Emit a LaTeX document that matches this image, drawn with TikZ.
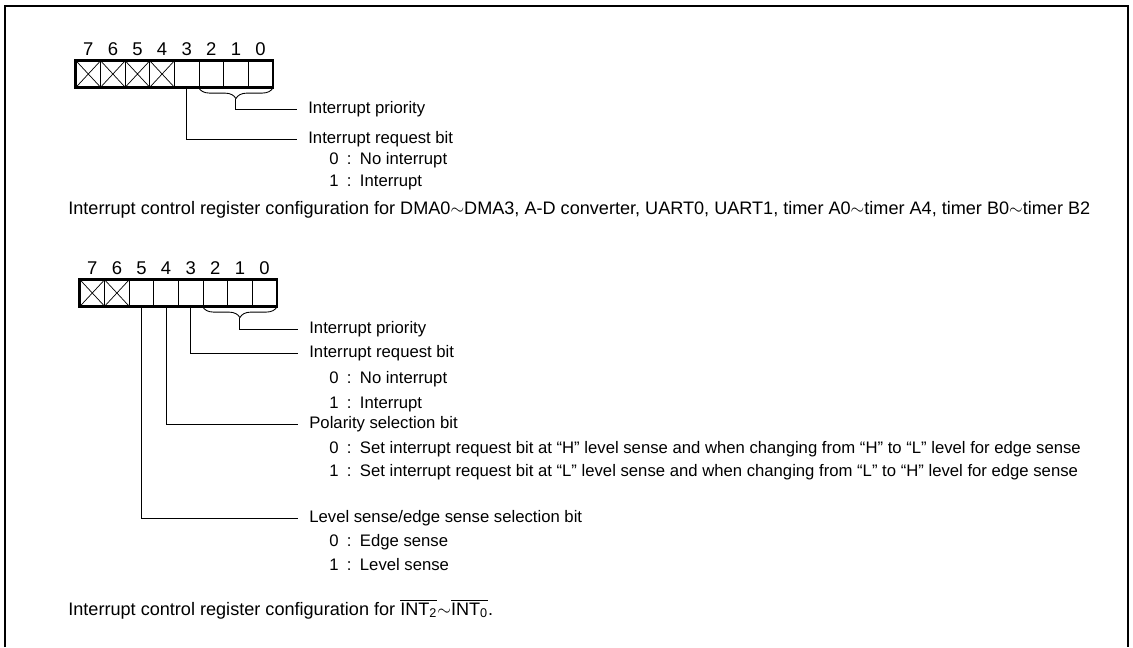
\documentclass[tikz,border=0pt]{standalone}
\usepackage{fontspec}
\setmainfont{Liberation Sans}
\usetikzlibrary{decorations.pathreplacing, calc, positioning}

\begin{document}
\begin{tikzpicture}[
    x=0.02cm, y=-0.02cm,
    font=\fontsize{9.5}{11}\selectfont,
    cell/.style={draw, line width=0.4pt, minimum width=0.492cm, minimum height=0.53cm, inner sep=0pt},
    xcell/.style={cell, path picture={\draw[line width=0.4pt] (path picture bounding box.north west) -- (path picture bounding box.south east) (path picture bounding box.south west) -- (path picture bounding box.north east);}},
    num/.style={font=\fontsize{10.5}{12}\selectfont, inner ysep=2.6pt},
    regbox/.style={line width=1.4pt},
    lead/.style={line width=0.5pt},
    lbl/.style={anchor=west, inner xsep=0.22cm, inner ysep=1pt},
    itemtext/.style={anchor=west, inner sep=0pt},
    captext/.style={anchor=west, inner sep=0pt, font=\fontsize{10.3}{12}\selectfont},
    brc/.style={decorate, decoration={brace, mirror, amplitude=0.22cm}, line width=0.5pt},
    frame/.style={line width=1.1pt}
]
    \useasboundingbox (0,0) rectangle (1133,647);
    \draw[frame] (5,647) |- (1128,6) -- (1128,647);

    % register for DMA, A-D, UART, timers
    \node[xcell, label={[num]above:7}] (r1b7) at (88.3,74) {};
    \node[xcell, label={[num]above:6}] (r1b6) at (112.9,74) {};
    \node[xcell, label={[num]above:5}] (r1b5) at (137.5,74) {};
    \node[xcell, label={[num]above:4}] (r1b4) at (162.1,74) {};
    \node[cell, label={[num]above:3}] (r1b3) at (186.7,74) {};
    \node[cell, label={[num]above:2}] (r1b2) at (211.3,74) {};
    \node[cell, label={[num]above:1}] (r1b1) at (235.9,74) {};
    \node[cell, label={[num]above:0}] (r1b0) at (260.5,74) {};
    \draw[regbox] (r1b7.north west) rectangle (r1b0.south east);

    \node[lbl] (pri1) at (297,109) {Interrupt priority};
    \node[lbl] (req1) at (297,139) {Interrupt request bit};
    \node[itemtext] (req1a) at (329,160) {0\enspace:\enspace No interrupt};
    \node[itemtext] (req1b) at (329,182) {1\enspace:\enspace Interrupt};

    \draw[brc] (r1b2.south west) -- (r1b0.south east);
    \coordinate (tip1) at ([yshift=-0.22cm]$(r1b2.south west)!0.5!(r1b0.south east)$);
    \draw[lead] (tip1) |- (pri1.west);
    \draw[lead] (r1b3.south) |- (req1.west);

    \node[captext] (cap1) at (68,210) {Interrupt control register configuration for DMA0${\sim}$DMA3, A-D converter, UART0, UART1, timer A0${\sim}$timer A4, timer B0${\sim}$timer B2};

    % register for INT2 to INT0
    \node[xcell, label={[num]above:7}] (r2b7) at (92.3,293) {};
    \node[xcell, label={[num]above:6}] (r2b6) at (116.9,293) {};
    \node[cell, label={[num]above:5}] (r2b5) at (141.5,293) {};
    \node[cell, label={[num]above:4}] (r2b4) at (166.1,293) {};
    \node[cell, label={[num]above:3}] (r2b3) at (190.7,293) {};
    \node[cell, label={[num]above:2}] (r2b2) at (215.3,293) {};
    \node[cell, label={[num]above:1}] (r2b1) at (239.9,293) {};
    \node[cell, label={[num]above:0}] (r2b0) at (264.5,293) {};
    \draw[regbox] (r2b7.north west) rectangle (r2b0.south east);

    \node[lbl] (pri2) at (298,329) {Interrupt priority};
    \node[lbl] (req2) at (298,353) {Interrupt request bit};
    \node[itemtext] (req2a) at (329,379) {0\enspace:\enspace No interrupt};
    \node[itemtext] (req2b) at (329,404) {1\enspace:\enspace Interrupt};
    \node[lbl] (pol2) at (298,424) {Polarity selection bit};
    \node[itemtext] (pol2a) at (329,449) {0\enspace:\enspace Set interrupt request bit at “H” level sense and when changing from “H” to “L” level for edge sense};
    \node[itemtext] (pol2b) at (329,472) {1\enspace:\enspace Set interrupt request bit at “L” level sense and when changing from “L” to “H” level for edge sense};
    \node[lbl] (lvl2) at (298,518) {Level sense/edge sense selection bit};
    \node[itemtext] (lvl2a) at (329,542) {0\enspace:\enspace Edge sense};
    \node[itemtext] (lvl2b) at (329,565) {1\enspace:\enspace Level sense};

    \draw[brc] (r2b2.south west) -- (r2b0.south east);
    \coordinate (tip2) at ([yshift=-0.22cm]$(r2b2.south west)!0.5!(r2b0.south east)$);
    \draw[lead] (tip2) |- (pri2.west);
    \draw[lead] (r2b3.south) |- (req2.west);
    \draw[lead] (r2b4.south) |- (pol2.west);
    \draw[lead] (r2b5.south) |- (lvl2.west);

    \node[captext] (cap2) at (68,609) {Interrupt control register configuration for $\overline{\mbox{INT\textsubscript{2}}}{\sim}\overline{\mbox{INT\textsubscript{0}}}$.};
\end{tikzpicture}
\end{document}
